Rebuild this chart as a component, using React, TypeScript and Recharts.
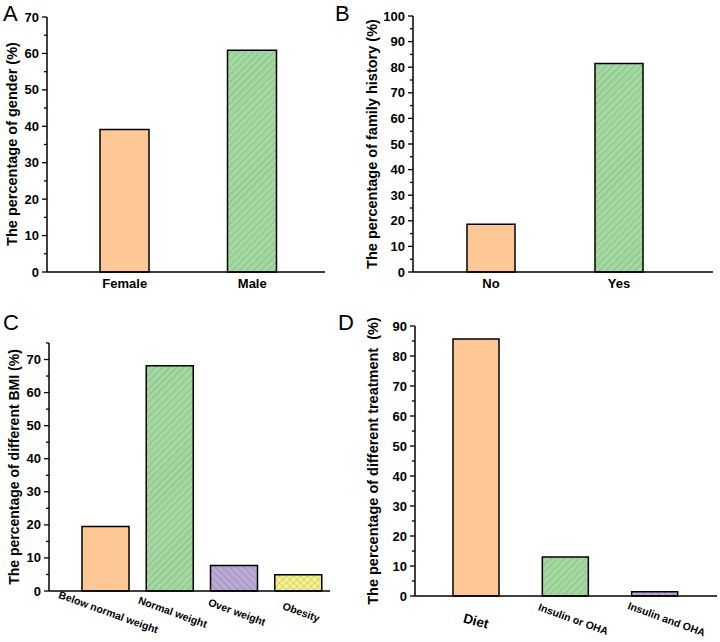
import React from 'react';
import { BarChart, Bar, XAxis, YAxis, Cell } from 'recharts';

// Panel A - gender
const genderCategories = ['Female', 'Male'];
const genderValues = [39.1, 60.9];
const genderTicks = [0, 5, 10, 15, 20, 25, 30, 35, 40, 45, 50, 55, 60, 65, 70];

// Panel B - family history
const familyCategories = ['No', 'Yes'];
const familyValues = [18.7, 81.4];
const familyTicks = [0, 5, 10, 15, 20, 25, 30, 35, 40, 45, 50, 55, 60, 65, 70, 75, 80, 85, 90, 95, 100];

// Panel C - BMI
const bmiCategories = ['Below normal weight', 'Normal weight', 'Over weight', 'Obesity'];
const bmiValues = [19.5, 68.1, 7.7, 4.9];
const bmiTicks = [0, 5, 10, 15, 20, 25, 30, 35, 40, 45, 50, 55, 60, 65, 70, 75];

// Panel D - treatment
const treatmentCategories = ['Diet', 'Insulin or OHA', 'Insulin and OHA'];
const treatmentValues = [85.7, 13.0, 1.4];
const treatmentTicks = [0, 5, 10, 15, 20, 25, 30, 35, 40, 45, 50, 55, 60, 65, 70, 75, 80, 85, 90];

const ORANGE = '#FDC896';
const GREEN = 'url(#hatchGreen)';
const PURPLE = 'url(#hatchPurple)';
const YELLOW = 'url(#hatchYellow)';

const FONT = '"Liberation Sans", Arial, sans-serif';

const YTick = (props: any) => {
  const { x, y, payload } = props;
  const major = payload.value % 10 === 0;
  return (
    <g>
      <line x1={x} x2={x - (major ? 5 : 3)} y1={y} y2={y} stroke="#000" strokeWidth={1.3} />
      {major && (
        <text x={x - 8} y={y} dy={4.5} textAnchor="end" fontSize={13} fontWeight="bold" fill="#000">
          {payload.value}
        </text>
      )}
    </g>
  );
};

const PlainXTick = (props: any) => {
  const { x, y, payload } = props;
  return (
    <text x={x} y={y + 16} textAnchor="middle" fontSize={13} fontWeight="bold" fill="#000">
      {payload.value}
    </text>
  );
};

const BmiXTick = (props: any) => {
  const { x, y, payload } = props;
  const cx = x + 3;
  const cy = y + 22;
  return (
    <text
      x={cx}
      y={cy}
      dominantBaseline="middle"
      textAnchor="middle"
      fontSize={10.5}
      fontWeight="bold"
      fill="#000"
      transform={`rotate(20, ${cx}, ${cy})`}
    >
      {payload.value}
    </text>
  );
};

const TreatmentXTick = (props: any) => {
  const { x, y, payload, index } = props;
  const first = index === 0;
  const cx = first ? x : x + 4 + index * 4;
  const cy = first ? y + 26 : y + 24;
  return (
    <text
      x={cx}
      y={cy}
      dominantBaseline="middle"
      textAnchor="middle"
      fontSize={first ? 13.5 : 10.5}
      fontWeight="bold"
      fill="#000"
      transform={`rotate(${first ? 15 : 20}, ${cx}, ${cy})`}
    >
      {payload.value}
    </text>
  );
};

interface PanelProps {
  left: number;
  top: number;
  width: number;
  height: number;
  margin: { top: number; right: number; bottom: number; left: number };
  yWidth: number;
  xHeight: number;
  padding: { left: number; right: number };
  barSize: number;
  categories: string[];
  values: number[];
  fills: string[];
  domain: [number, number];
  ticks: number[];
  xTick: any;
}

function Panel(p: PanelProps) {
  const data = p.categories.map((name, i) => ({ name, value: p.values[i] }));
  return (
    <div style={{ position: 'absolute', left: p.left, top: p.top }}>
      <BarChart width={p.width} height={p.height} data={data} margin={p.margin}>
        <XAxis
          dataKey="name"
          height={p.xHeight}
          padding={p.padding}
          tickLine={false}
          tickSize={0}
          tickMargin={0}
          interval={0}
          axisLine={{ stroke: '#000', strokeWidth: 1.5 }}
          tick={p.xTick}
        />
        <YAxis
          width={p.yWidth}
          type="number"
          domain={p.domain}
          ticks={p.ticks}
          interval={0}
          tickLine={false}
          tickSize={0}
          tickMargin={0}
          axisLine={{ stroke: '#000', strokeWidth: 1.5 }}
          tick={<YTick />}
        />
        <Bar dataKey="value" barSize={p.barSize} stroke="#000" strokeWidth={1.5} isAnimationActive={false}>
          {data.map((_, i) => (
            <Cell key={`cell-${i}`} fill={p.fills[i]} />
          ))}
        </Bar>
      </BarChart>
    </div>
  );
}

export default function App() {
  return (
    <div
      style={{
        position: 'absolute',
        left: 0,
        top: 0,
        width: 720,
        height: 642,
        background: '#fff',
        fontFamily: FONT,
      }}
    >
      <svg width={0} height={0} style={{ position: 'absolute' }}>
        <defs>
          <pattern id="hatchGreen" patternUnits="userSpaceOnUse" width={5} height={5} patternTransform="rotate(45)">
            <rect width={5} height={5} fill="#A3D9A0" />
            <line x1={0} y1={0} x2={0} y2={5} stroke="#6FA56D" strokeWidth={0.9} />
          </pattern>
          <pattern id="hatchPurple" patternUnits="userSpaceOnUse" width={5} height={5} patternTransform="rotate(-45)">
            <rect width={5} height={5} fill="#BBA9D6" />
            <line x1={0} y1={0} x2={0} y2={5} stroke="#7F6FA0" strokeWidth={0.9} />
          </pattern>
          <pattern id="hatchYellow" patternUnits="userSpaceOnUse" width={5} height={5} patternTransform="rotate(45)">
            <rect width={5} height={5} fill="#F6F28C" />
            <line x1={0} y1={0} x2={0} y2={5} stroke="#B0A958" strokeWidth={0.8} />
            <line x1={0} y1={0} x2={5} y2={0} stroke="#B0A958" strokeWidth={0.8} />
          </pattern>
        </defs>
      </svg>

      <Panel
        left={0}
        top={0}
        width={360}
        height={310}
        margin={{ top: 17, right: 35, bottom: 0, left: 0 }}
        yWidth={47}
        xHeight={38}
        padding={{ left: 14, right: 9 }}
        barSize={49}
        categories={genderCategories}
        values={genderValues}
        fills={[ORANGE, GREEN]}
        domain={[0, 70]}
        ticks={genderTicks}
        xTick={<PlainXTick />}
      />
      <Panel
        left={360}
        top={0}
        width={360}
        height={310}
        margin={{ top: 16, right: 7, bottom: 0, left: 0 }}
        yWidth={53}
        xHeight={38}
        padding={{ left: 14, right: 30 }}
        barSize={48}
        categories={familyCategories}
        values={familyValues}
        fills={[ORANGE, GREEN]}
        domain={[0, 100]}
        ticks={familyTicks}
        xTick={<PlainXTick />}
      />
      <Panel
        left={0}
        top={310}
        width={360}
        height={332}
        margin={{ top: 33, right: 30, bottom: 0, left: 0 }}
        yWidth={49}
        xHeight={51}
        padding={{ left: 24, right: 0 }}
        barSize={47}
        categories={bmiCategories}
        values={bmiValues}
        fills={[ORANGE, GREEN, PURPLE, YELLOW]}
        domain={[0, 75]}
        ticks={bmiTicks}
        xTick={<BmiXTick />}
      />
      <Panel
        left={360}
        top={310}
        width={360}
        height={332}
        margin={{ top: 16, right: 3, bottom: 0, left: 0 }}
        yWidth={55}
        xHeight={46}
        padding={{ left: 16, right: 18 }}
        barSize={46}
        categories={treatmentCategories}
        values={treatmentValues}
        fills={[ORANGE, GREEN, PURPLE]}
        domain={[0, 90]}
        ticks={treatmentTicks}
        xTick={<TreatmentXTick />}
      />

      {/* panel letters and axis titles */}
      <svg width={720} height={642} style={{ position: 'absolute', left: 0, top: 0, pointerEvents: 'none' }}>
        <g fontFamily={FONT} fill="#000">
          <text x={3} y={21} fontSize={22}>A</text>
          <text x={335} y={21} fontSize={22}>B</text>
          <text x={3} y={330} fontSize={22}>C</text>
          <text x={338} y={330} fontSize={22}>D</text>
          <g fontSize={14.5} fontWeight="bold" textAnchor="middle">
            <text x={13} y={144} dominantBaseline="middle" transform="rotate(-90, 13, 144)">
              The percentage of gender (%)
            </text>
            <text x={373} y={144} dominantBaseline="middle" transform="rotate(-90, 373, 144)">
              The percentage of family history (%)
            </text>
            <text x={15} y={467} fontSize={14} dominantBaseline="middle" transform="rotate(-90, 15, 467)">
              The percentage of different BMI (%)
            </text>
            <text
              x={374}
              y={461}
              dominantBaseline="middle"
              transform="rotate(-90, 374, 461)"
              style={{ whiteSpace: 'pre' }}
            >
              {'The percentage of different treatment  (%)'}
            </text>
          </g>
        </g>
      </svg>
    </div>
  );
}
